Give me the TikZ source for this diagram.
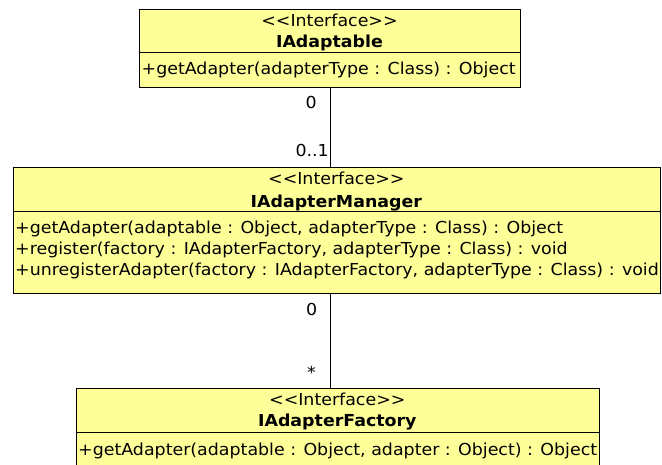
\documentclass[tikz,border=0pt]{standalone}
\usepackage{fontspec}
\setmainfont[FakeStretch=1.055]{DejaVu Sans}
\definecolor{classfill}{RGB}{255,255,153}
\newcommand{\stereotype}[1]{{<}{<}#1{>}{>}}
\begin{document}
\begin{tikzpicture}[x=1pt,y=-1pt,
  umlbox/.style={draw=black, fill=classfill, line width=1pt, inner sep=0pt, anchor=north west},
  divider/.style={draw=black, line width=1pt},
  assoc/.style={draw=black, line width=1pt},
  txt/.style={inner sep=0pt, font=\fontsize{16.5}{19}\selectfont},
  stereo/.style={txt, anchor=base},
  cname/.style={txt, anchor=base, font=\fontsize{16.5}{19}\selectfont\bfseries},
  member/.style={txt, anchor=base west},
  mult/.style={txt, anchor=base east}]
\useasboundingbox (0,0) rectangle (662,465);
\clip (0,0) rectangle (662,465);
\fill[white] (0,0) rectangle (662,465);

% IAdaptable
\node[umlbox, minimum width=381pt, minimum height=78pt] (ad) at (139,9) {};
\draw[divider] (ad.west |- 0,53) -- (ad.east |- 0,53);
\node[stereo] (adS) at (329.5,26.5) {\stereotype{Interface}};
\node[cname] (adN) at (329.5,47.7) {IAdaptable};
\node[member] (adM1) at (141.5,75) {+getAdapter(adapterType : Class) : Object};

% IAdapterManager
\node[umlbox, minimum width=647.3pt, minimum height=126pt] (mgr) at (12.7,167) {};
\draw[divider] (mgr.west |- 0,212) -- (mgr.east |- 0,212);
\node[stereo] (mgrS) at (336.3,184.3) {\stereotype{Interface}};
\node[cname] (mgrN) at (336.3,207.7) {IAdapterManager};
\node[member] (mgrM1) at (15,234) {+getAdapter(adaptable : Object, adapterType : Class) : Object};
\node[member] (mgrM2) at (15,255) {+register(factory : IAdapterFactory, adapterType : Class) : void};
\node[member] (mgrM3) at (15,276) {+unregisterAdapter(factory : IAdapterFactory, adapterType : Class) : void};

% IAdapterFactory
\node[umlbox, minimum width=523.3pt, minimum height=92pt] (fac) at (75.7,388) {};
\draw[divider] (fac.west |- 0,432.5) -- (fac.east |- 0,432.5);
\node[stereo] (facS) at (337.3,405.5) {\stereotype{Interface}};
\node[cname] (facN) at (337.3,426.7) {IAdapterFactory};
\node[member] (facM1) at (78,455) {+getAdapter(adaptable : Object, adapter : Object) : Object};

% associations with multiplicities
\draw[assoc] (ad.south) -- (ad.south |- mgr.north);
\node[mult] (m1) at (317,109) {0};
\node[mult] (m2) at (329,157) {0..1};
\draw[assoc] (ad.south |- mgr.south) -- (ad.south |- fac.north);
\node[mult] (m3) at (317.5,316) {0};
\node[mult] (m4) at (316,378) {*};
\end{tikzpicture}
\end{document}
